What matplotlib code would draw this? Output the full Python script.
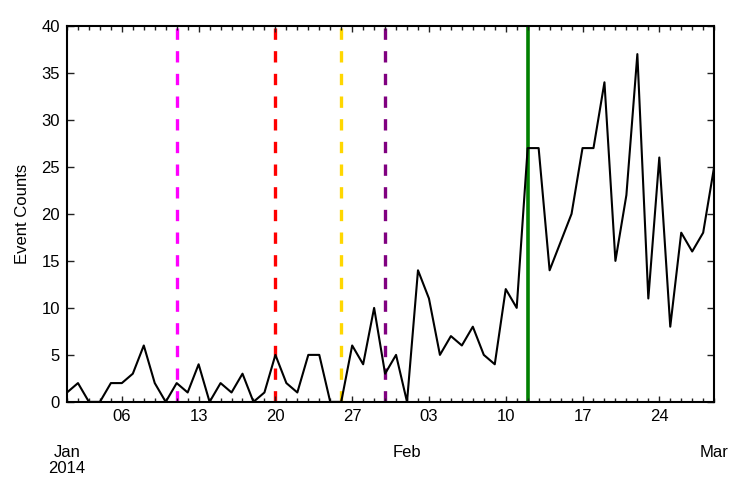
"""Daily event counts, Jan-Feb 2014, with marker dates."""

import matplotlib

matplotlib.use("Agg")
import matplotlib.dates as mdates
import matplotlib.pyplot as plt
import matplotlib.transforms as mtransforms
import pandas as pd

plt.rcParams["font.family"] = ["Liberation Sans", "DejaVu Sans"]

start_date = "2014-01-01"
event_counts = [
    1, 2, 0, 0, 2, 2, 3, 6, 2, 0,
    2, 1, 4, 0, 2, 1, 3, 0, 1, 5,
    2, 1, 5, 5, 0, 0, 6, 4, 10, 3,
    5, 0, 14, 11, 5, 7, 6, 8, 5, 4,
    12, 10, 27, 27, 14, 17, 20, 27, 27, 34,
    15, 22, 37, 11, 26, 8, 18, 16, 18, 25,
]
dashed_dates = ["2014-01-11", "2014-01-20", "2014-01-26", "2014-01-30"]
dashed_colors = ["#ff00ff", "#ff0000", "#ffd700", "#800080"]
solid_date = "2014-02-12"
solid_color = "#008000"
month_dates = ["2014-01-01", "2014-02-01", "2014-03-01"]
month_labels = ["Jan\n2014", "Feb", "Mar"]
x_limits = ["2014-01-01", "2014-03-01"]
y_ticks = [0, 5, 10, 15, 20, 25, 30, 35, 40]

dates = pd.date_range(start_date, periods=len(event_counts), freq="D")

fig = plt.figure(figsize=(7.47, 4.98), dpi=100)
ax = fig.add_axes([0.0897, 0.193, 0.8663, 0.755])

for day, color in zip(dashed_dates, dashed_colors, strict=True):
    ax.axvline(pd.Timestamp(day), color=color, linewidth=2.4,
               linestyle=(0, (3.4, 3.4)), zorder=1)
ax.axvline(pd.Timestamp(solid_date), color=solid_color, linewidth=2.6, zorder=1)

ax.plot(dates, event_counts, color="black", linewidth=1.5, zorder=2)

ax.set_xlim(pd.Timestamp(x_limits[0]), pd.Timestamp(x_limits[1]))
ax.set_ylim(0, 40)
ax.set_yticks(y_ticks)

ax.xaxis.set_major_locator(mdates.WeekdayLocator(byweekday=mdates.MO))
ax.xaxis.set_major_formatter(mdates.DateFormatter("%d"))
ax.xaxis.set_minor_locator(mdates.DayLocator())

ax.tick_params(axis="both", which="both", direction="in", top=True, right=True,
               labelsize=12, width=1.0, color="#222222")
ax.tick_params(axis="x", which="major", length=4, pad=5)
ax.tick_params(axis="x", which="minor", length=3)
ax.tick_params(axis="y", which="major", length=5, pad=5)

for spine in ax.spines.values():
    spine.set_linewidth(1.5)

ax.set_ylabel("Event Counts", fontsize=12, labelpad=8)

trans = mtransforms.blended_transform_factory(ax.transData, ax.transAxes)
for day, label in zip(month_dates, month_labels, strict=True):
    ax.text(mdates.date2num(pd.Timestamp(day)), -0.115, label, transform=trans,
            ha="center", va="top", fontsize=12, linespacing=1.1)

fig.savefig("out.png", dpi=100)
plt.close(fig)
